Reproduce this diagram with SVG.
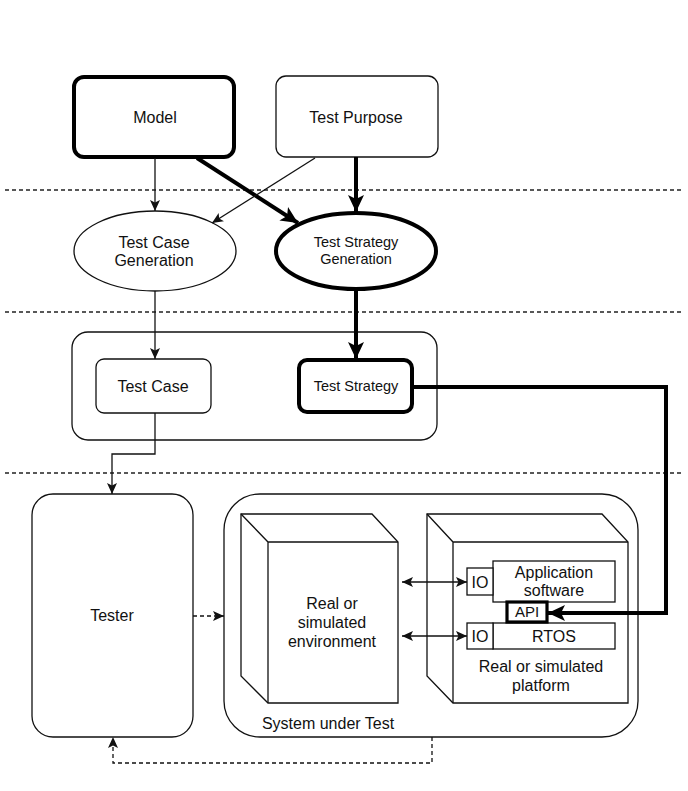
<svg xmlns="http://www.w3.org/2000/svg" width="688" height="791" viewBox="0 0 688 791">
<style>
text{font-family:"Liberation Sans",Arial,sans-serif;font-size:16px;fill:#111;text-anchor:middle}
.s{fill:#fff;stroke:#111;stroke-width:1.3}
.k{fill:#fff;stroke:#000;stroke-width:4}
.ln{fill:none;stroke:#111;stroke-width:1.3}
.tk{fill:none;stroke:#000;stroke-width:4}
.dl{fill:none;stroke:#222;stroke-width:1.4;stroke-dasharray:4 3}
.da{fill:none;stroke:#111;stroke-width:1.3;stroke-dasharray:4 3}
</style>
<defs>
<marker id="a" markerUnits="userSpaceOnUse" markerWidth="13" markerHeight="13" viewBox="0 0 13 13" refX="12" refY="6.5" orient="auto">
<path d="M1,1.5 L12,6.5 L1,11.5 L3.5,6.5 z" fill="#111"/>
</marker>
<marker id="as" markerUnits="userSpaceOnUse" markerWidth="13" markerHeight="13" viewBox="0 0 13 13" refX="1" refY="6.5" orient="auto">
<path d="M12,1.5 L1,6.5 L12,11.5 L9.5,6.5 z" fill="#111"/>
</marker>
<marker id="A" markerUnits="userSpaceOnUse" markerWidth="20" markerHeight="20" viewBox="0 0 20 20" refX="18" refY="10" orient="auto">
<path d="M1,2 L18,10 L1,18 L5,10 z" fill="#000"/>
</marker>
</defs>
<g id="separators">
<line class="dl" x1="5" y1="190" x2="684" y2="190"/>
<line class="dl" x1="5" y1="312" x2="684" y2="312"/>
<line class="dl" x1="5" y1="473" x2="684" y2="473"/>
</g>
<g id="model"><rect class="k" x="74" y="77" width="160" height="80" rx="10"/><text x="155" y="122.5">Model</text></g>
<g id="test-purpose"><rect class="s" x="276" y="76" width="162" height="81" rx="10"/><text x="356" y="122.5">Test Purpose</text></g>
<g id="test-case-generation"><ellipse class="s" cx="155" cy="251" rx="81" ry="40"/><text x="154" y="247.5">Test Case</text><text x="154" y="265.5">Generation</text></g>
<g id="test-strategy-generation"><ellipse class="k" cx="356" cy="251" rx="80" ry="38"/><text x="356" y="247" style="font-size:14.5px">Test Strategy</text><text x="356" y="264" style="font-size:14.5px">Generation</text></g>
<g id="artifacts"><rect class="s" x="72" y="332" width="365" height="108" rx="16"/></g>
<g id="test-case"><rect class="s" x="96" y="359" width="115" height="54" rx="8"/><text x="153" y="391.5">Test Case</text></g>
<g id="test-strategy"><rect class="k" x="299" y="360" width="113" height="52" rx="8"/><text x="356" y="391" style="font-size:14.5px">Test Strategy</text></g>
<g id="tester"><rect class="s" x="32" y="494" width="161" height="243" rx="21"/><text x="112" y="620.5">Tester</text></g>
<g id="system-under-test"><rect class="s" x="224" y="494" width="414" height="243" rx="36"/><text x="328" y="729">System under Test</text></g>
<g id="environment">
<path class="s" d="M241,514 H372 L398,542 V703 H268 L241,676 Z"/>
<path class="ln" d="M241,514 L268,542 H398 M268,542 V703"/>
<text x="332" y="608.5">Real or</text><text x="332" y="627.5">simulated</text><text x="332" y="646.5">environment</text>
</g>
<g id="platform">
<path class="s" d="M427,514 H602 L628,542 V703 H453 L427,676 Z"/>
<path class="ln" d="M427,514 L453,542 H628 M453,542 V703"/>
<text x="541" y="671.5">Real or simulated</text><text x="541" y="690.5">platform</text>
</g>
<g id="application-software"><rect class="s" x="493" y="561" width="122" height="41"/><text x="554" y="577.5">Application</text><text x="554" y="596">software</text></g>
<g id="io-app"><rect class="s" x="467" y="568" width="26" height="27"/><text x="480" y="587.5">IO</text></g>
<g id="rtos"><rect class="s" x="493" y="623" width="122" height="26"/><text x="554" y="641.5">RTOS</text></g>
<g id="io-rtos"><rect class="s" x="467" y="623" width="26" height="26"/><text x="480" y="641.5">IO</text></g>
<g id="api"><rect class="s" x="507" y="602" width="40" height="20" style="stroke-width:3.2;stroke:#000"/><text x="527" y="617" style="font-size:15px">API</text></g>
<g id="connectors">
<path class="ln" d="M155,158 V211" marker-end="url(#a)"/>
<path class="tk" d="M197,158 L298,223" marker-end="url(#A)"/>
<path class="ln" d="M315,158 L212,223" marker-end="url(#a)"/>
<path class="tk" d="M356,157 V212" marker-end="url(#A)"/>
<path class="ln" d="M155,291 V359" marker-end="url(#a)"/>
<path class="tk" d="M356,289 V359" marker-end="url(#A)"/>
<path class="ln" d="M155,413 V454 H112 V494" marker-end="url(#a)"/>
<path class="tk" d="M413,387 H666 V613 H548" marker-end="url(#A)"/>
<path class="da" d="M193,616 H224" marker-end="url(#a)"/>
<path class="da" d="M432,737 V763 H113 V737" marker-end="url(#a)"/>
<path class="ln" d="M402,582 H467" marker-start="url(#as)" marker-end="url(#a)"/>
<path class="ln" d="M402,636 H467" marker-start="url(#as)" marker-end="url(#a)"/>
</g>
</svg>
